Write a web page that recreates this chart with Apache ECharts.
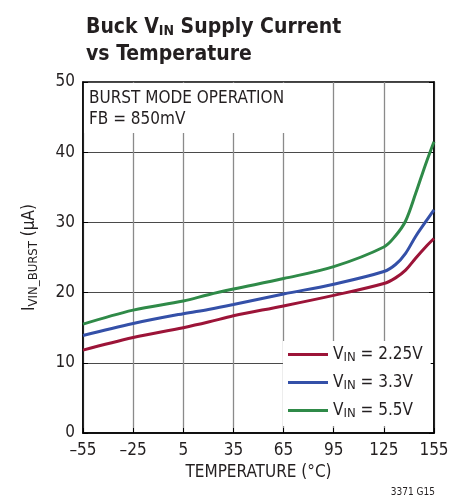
<!DOCTYPE html>
<html>
<head>
<meta charset="utf-8">
<script src="https://cdn.jsdelivr.net/npm/echarts@6/dist/echarts.min.js"></script>
<style>
  html, body { margin: 0; padding: 0; background: #fff; }
  #chart { width: 461px; height: 502px; }
</style>
</head>
<body>
<div id="chart"></div>
<script>
// temperature points (°C)
const temps = [-55, -25, 5, 20, 35, 65, 95, 125, 132, 138, 144, 150, 155]
// supply current (µA) per VIN
const vin225 = [11.8, 13.6, 15.0, 15.8, 16.7, 18.1, 19.6, 21.3, 22.1, 23.2, 24.9, 26.5, 27.7]
const vin33 = [13.9, 15.6, 17.0, 17.6, 18.3, 19.8, 21.2, 23.0, 24.0, 25.6, 28.0, 30.1, 31.8]
const vin55 = [15.5, 17.5, 18.8, 19.7, 20.5, 22.0, 23.7, 26.5, 28.1, 30.2, 34.1, 38.3, 41.5]
const seriesNames = ['2.25V', '3.3V', '5.5V']

const FONT = "'Liberation Sans Narrow', 'DejaVu Sans Condensed', sans-serif"
const colors = ['#9c1438', '#3450a8', '#2f8a48']

const pairs = (ys) => temps.map((t, i) => [t, ys[i]])

const chart = echarts.init(document.getElementById('chart'))
chart.setOption({
  animation: false,
  textStyle: { fontFamily: FONT },
  title: {
    left: 81,
    top: 9,
    text: '{a|Buck V}{s|IN}{a| Supply Current}\n{a|vs Temperature}',
    textStyle: {
      rich: {
        a: { fontFamily: FONT, fontSize: 21, fontWeight: 'bold', color: '#231f20', lineHeight: 27 },
        s: { fontFamily: FONT, fontSize: 14, fontWeight: 'bold', color: '#231f20', lineHeight: 27, padding: [8, 0, 0, 0] }
      }
    }
  },
  grid: {
    left: 83,
    right: 27,
    top: 82,
    bottom: 69,
    show: true,
    borderColor: '#000',
    borderWidth: 1.5
  },
  legend: {
    left: 283,
    top: 341,
    orient: 'vertical',
    backgroundColor: '#fff',
    padding: [4, 8, 6, 5],
    itemGap: 9,
    itemWidth: 40,
    itemHeight: 3,
    icon: 'rect',
    data: seriesNames,
    formatter: (n) => '{v|V}{s|IN}{v| = ' + n + '}',
    textStyle: {
      rich: {
        v: { fontFamily: FONT, fontSize: 17, color: '#231f20', lineHeight: 19 },
        s: { fontFamily: FONT, fontSize: 13, color: '#231f20', lineHeight: 19, padding: [6, 0, 0, 0] }
      }
    }
  },
  xAxis: {
    type: 'value',
    min: -55,
    max: 155,
    interval: 30,
    name: 'TEMPERATURE (°C)',
    nameLocation: 'middle',
    nameGap: 30,
    nameTextStyle: { fontFamily: FONT, fontSize: 17, color: '#231f20' },
    axisLine: { show: true, onZero: false, lineStyle: { color: '#000', width: 1.5 } },
    axisTick: { show: true, inside: true, length: 5, lineStyle: { color: '#000' } },
    axisLabel: {
      margin: 9,
      fontFamily: FONT,
      fontSize: 17,
      color: '#231f20',
      formatter: (v) => String(v).replace('-', '\u2013')
    },
    splitLine: { show: true, lineStyle: { color: '#8a8a8a', width: 1.3 } }
  },
  yAxis: [
    {
      type: 'value',
      min: 0,
      max: 50,
      interval: 10,
      name: '{i|I}{s|VIN_BURST}{i| (μA)}',
      nameLocation: 'middle',
      nameGap: 43,
      nameTextStyle: {
        rich: {
          i: { fontFamily: FONT, fontSize: 17, color: '#231f20', lineHeight: 20 },
          s: { fontFamily: FONT, fontSize: 13, color: '#231f20', lineHeight: 20, padding: [7, 0, 0, 0] }
        }
      },
      axisLine: { show: true, onZero: false, lineStyle: { color: '#000', width: 1.5 } },
      axisTick: { show: true, inside: true, length: 5, lineStyle: { color: '#000' } },
      axisLabel: { margin: 8, fontFamily: FONT, fontSize: 17, color: '#231f20' },
      splitLine: { show: true, lineStyle: { color: '#4a4a4a', width: 1.2 } }
    },
    {
      type: 'value',
      position: 'right',
      min: 0,
      max: 50,
      interval: 10,
      axisLine: { show: true, onZero: false, lineStyle: { color: '#000', width: 1.5 } },
      axisTick: { show: true, inside: true, length: 5, lineStyle: { color: '#000' } },
      axisLabel: { show: false },
      splitLine: { show: false }
    }
  ],
  graphic: [
    {
      type: 'rect',
      z: 1,
      shape: { x: 84, y: 83, width: 209, height: 50 },
      style: { fill: '#fff' }
    },
    {
      type: 'text',
      z: 2,
      left: 89,
      top: 88,
      style: {
        text: 'BURST MODE OPERATION\nFB = 850mV',
        font: '17px ' + FONT,
        fill: '#231f20',
        lineHeight: 21
      }
    },
    {
      type: 'text',
      right: 26,
      top: 487,
      style: { text: '3371 G15', font: '10px ' + FONT, fill: '#231f20' }
    }
  ],
  series: [vin225, vin33, vin55].map((ys, i) => ({
    name: seriesNames[i],
    type: 'line',
    smooth: 0.35,
    showSymbol: false,
    z: 3,
    data: pairs(ys),
    itemStyle: { color: colors[i] },
    lineStyle: { color: colors[i], width: 3 }
  }))
})
</script>
</body>
</html>
